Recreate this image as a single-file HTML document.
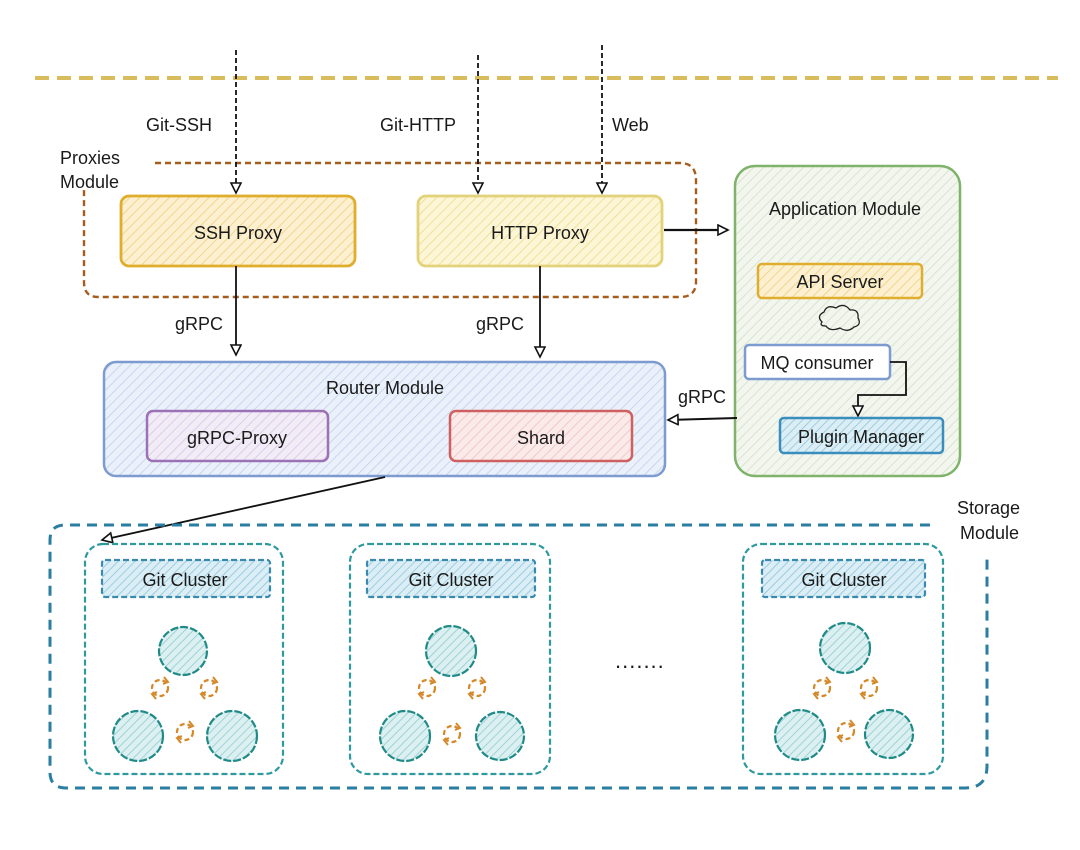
<!DOCTYPE html>
<html><head><meta charset="utf-8"><style>
html,body{margin:0;padding:0;background:#fff;}
svg{display:block;}
text{font-family:"Liberation Sans","DejaVu Sans",sans-serif;font-size:18px;fill:#1a1a1a;}
</style></head><body>
<svg width="1080" height="850" viewBox="0 0 1080 850" xmlns="http://www.w3.org/2000/svg">
<defs>
<pattern id="hY" width="7" height="7" patternUnits="userSpaceOnUse" patternTransform="rotate(45)"><rect width="7" height="7" fill="#fcf0d0"/><line x1="0" y1="0" x2="0" y2="7" stroke="#edcf7c" stroke-width="1.6"/></pattern>
<pattern id="hY2" width="7" height="7" patternUnits="userSpaceOnUse" patternTransform="rotate(45)"><rect width="7" height="7" fill="#fcf6d6"/><line x1="0" y1="0" x2="0" y2="7" stroke="#eadc8c" stroke-width="1.6"/></pattern>
<pattern id="hB" width="7" height="7" patternUnits="userSpaceOnUse" patternTransform="rotate(45)"><rect width="7" height="7" fill="#ebf1fa"/><line x1="0" y1="0" x2="0" y2="7" stroke="#bfd0ec" stroke-width="1.6"/></pattern>
<pattern id="hG" width="7" height="7" patternUnits="userSpaceOnUse" patternTransform="rotate(45)"><rect width="7" height="7" fill="#f2f6ee"/><line x1="0" y1="0" x2="0" y2="7" stroke="#d3e0c8" stroke-width="1.6"/></pattern>
<pattern id="hP" width="7" height="7" patternUnits="userSpaceOnUse" patternTransform="rotate(45)"><rect width="7" height="7" fill="#f2ecf6"/><line x1="0" y1="0" x2="0" y2="7" stroke="#d8c5e6" stroke-width="1.6"/></pattern>
<pattern id="hR" width="7" height="7" patternUnits="userSpaceOnUse" patternTransform="rotate(45)"><rect width="7" height="7" fill="#fbeaea"/><line x1="0" y1="0" x2="0" y2="7" stroke="#efc0c0" stroke-width="1.6"/></pattern>
<pattern id="hT" width="6" height="6" patternUnits="userSpaceOnUse" patternTransform="rotate(45)"><rect width="6" height="6" fill="#dcf0f1"/><line x1="0" y1="0" x2="0" y2="6" stroke="#94cdd0" stroke-width="1.7"/></pattern>
<pattern id="hC" width="6" height="6" patternUnits="userSpaceOnUse" patternTransform="rotate(45)"><rect width="6" height="6" fill="#dbeef5"/><line x1="0" y1="0" x2="0" y2="6" stroke="#94c6dd" stroke-width="1.7"/></pattern>
<marker id="ar" markerWidth="14" markerHeight="14" refX="11" refY="6" orient="auto" markerUnits="userSpaceOnUse"><path d="M1,1 L11,6 L1,11 Z" fill="#fff" stroke="#111" stroke-width="1.6"/></marker>
<g id="cyc"><circle r="8" fill="none" stroke="#d4892a" stroke-width="2.2" stroke-dasharray="5,3"/><path d="M4,-11 L8,-6 L3,-4 M-4,11 L-8,6 L-3,4" fill="none" stroke="#d4892a" stroke-width="2"/></g>
</defs>

<line x1="35" y1="78" x2="1058" y2="78" stroke="#d9bc5c" stroke-width="4" stroke-dasharray="14,8"/>

<path d="M155,163 L680,163 Q696,163 696,180 L696,282 Q696,297 680,297 L98,297 Q84,297 84,282 L84,190" fill="none" stroke="#a65c1c" stroke-width="2.4" stroke-dasharray="6,4"/>
<text x="60" y="164">Proxies</text>
<text x="60" y="188">Module</text>

<line x1="236" y1="50" x2="236" y2="193" stroke="#111" stroke-width="1.8" stroke-dasharray="5,3" marker-end="url(#ar)"/>
<line x1="478" y1="55" x2="478" y2="193" stroke="#111" stroke-width="1.8" stroke-dasharray="5,3" marker-end="url(#ar)"/>
<line x1="602" y1="45" x2="602" y2="193" stroke="#111" stroke-width="1.8" stroke-dasharray="5,3" marker-end="url(#ar)"/>
<text x="146" y="131">Git-SSH</text>
<text x="380" y="131">Git-HTTP</text>
<text x="612" y="131">Web</text>

<rect x="121" y="196" width="234" height="70" rx="8" fill="url(#hY)" stroke="#e0ad2c" stroke-width="2.8"/>
<text x="238" y="239" text-anchor="middle">SSH Proxy</text>
<rect x="418" y="196" width="244" height="70" rx="8" fill="url(#hY2)" stroke="#e3d27a" stroke-width="2.8"/>
<text x="540" y="239" text-anchor="middle">HTTP Proxy</text>
<line x1="664" y1="230" x2="728" y2="230" stroke="#111" stroke-width="2.2" marker-end="url(#ar)"/>

<line x1="236" y1="266" x2="236" y2="355" stroke="#111" stroke-width="1.8" marker-end="url(#ar)"/>
<line x1="540" y1="266" x2="540" y2="357" stroke="#111" stroke-width="1.8" marker-end="url(#ar)"/>
<text x="175" y="330">gRPC</text>
<text x="476" y="330">gRPC</text>

<rect x="104" y="362" width="561" height="114" rx="12" fill="url(#hB)" stroke="#7d9bd1" stroke-width="2.5"/>
<text x="385" y="394" text-anchor="middle">Router Module</text>
<rect x="147" y="411" width="181" height="50" rx="6" fill="url(#hP)" stroke="#9b72b5" stroke-width="2.5"/>
<text x="237" y="444" text-anchor="middle">gRPC-Proxy</text>
<rect x="450" y="411" width="182" height="50" rx="6" fill="url(#hR)" stroke="#d06060" stroke-width="2.5"/>
<text x="541" y="444" text-anchor="middle">Shard</text>

<rect x="735" y="166" width="225" height="310" rx="20" fill="url(#hG)" stroke="#7fb36a" stroke-width="2.5"/>
<text x="845" y="215" text-anchor="middle">Application Module</text>
<rect x="758" y="264" width="164" height="34" rx="4" fill="url(#hY)" stroke="#e0ad2c" stroke-width="2.5"/>
<text x="840" y="288" text-anchor="middle">API Server</text>
<path d="M822,322 q-6,-6 2,-10 q3,-8 12,-4 q8,-6 14,2 q9,-1 8,8 q4,7 -4,9 q-6,6 -14,1 q-10,4 -14,-2 q-7,0 -4,-4z" fill="none" stroke="#222" stroke-width="1.3"/>
<rect x="745" y="345" width="145" height="34" rx="4" fill="#fff" stroke="#7d9bd1" stroke-width="2.5"/>
<text x="817" y="369" text-anchor="middle">MQ consumer</text>
<path d="M890,362 L906,362 L906,395 L858,395 L858,416" fill="none" stroke="#111" stroke-width="1.8" marker-end="url(#ar)"/>
<rect x="780" y="418" width="163" height="35" rx="4" fill="url(#hC)" stroke="#3a8dbd" stroke-width="2.5"/>
<text x="861" y="443" text-anchor="middle">Plugin Manager</text>
<line x1="737" y1="418" x2="668" y2="420" stroke="#111" stroke-width="2" marker-end="url(#ar)"/>
<text x="678" y="403">gRPC</text>

<line x1="385" y1="477" x2="102" y2="540" stroke="#111" stroke-width="1.8" marker-end="url(#ar)"/>

<path d="M930,525 L65,525 Q50,525 50,540 L50,772 Q50,788 66,788 L965,788 Q987,788 987,766 L987,555" fill="none" stroke="#2a7ea1" stroke-width="3" stroke-dasharray="10,7"/>
<text x="957" y="514">Storage</text>
<text x="960" y="539">Module</text>

<g fill="none" stroke="#2e9a9e" stroke-width="2.2" stroke-dasharray="6,3">
<rect x="85" y="544" width="198" height="230" rx="18"/>
<rect x="350" y="544" width="200" height="230" rx="18"/>
<rect x="743" y="544" width="200" height="230" rx="18"/>
</g>
<g stroke="#3a8ab0" stroke-width="2.2" stroke-dasharray="6,3" fill="url(#hC)">
<rect x="102" y="560" width="168" height="37" rx="3"/>
<rect x="367" y="560" width="168" height="37" rx="3"/>
<rect x="762" y="560" width="163" height="37" rx="3"/>
</g>
<text x="185" y="586" text-anchor="middle">Git Cluster</text>
<text x="451" y="586" text-anchor="middle">Git Cluster</text>
<text x="844" y="586" text-anchor="middle">Git Cluster</text>

<g fill="url(#hT)" stroke="#1f8a86" stroke-width="2.2" stroke-dasharray="8,2">
<circle cx="183" cy="651" r="24"/><circle cx="138" cy="736" r="25"/><circle cx="232" cy="736" r="25"/>
<circle cx="451" cy="651" r="25"/><circle cx="405" cy="736" r="25"/><circle cx="500" cy="736" r="24"/>
<circle cx="845" cy="648" r="25"/><circle cx="800" cy="735" r="25"/><circle cx="889" cy="734" r="24"/>
</g>
<use href="#cyc" x="160" y="688"/><use href="#cyc" x="209" y="688"/><use href="#cyc" x="185" y="732"/>
<use href="#cyc" x="427" y="688"/><use href="#cyc" x="477" y="688"/><use href="#cyc" x="452" y="734"/>
<use href="#cyc" x="822" y="688"/><use href="#cyc" x="869" y="688"/><use href="#cyc" x="846" y="731"/>

<text x="615" y="668" style="font-size:22px;letter-spacing:1px">.......</text>
</svg>
</body></html>
